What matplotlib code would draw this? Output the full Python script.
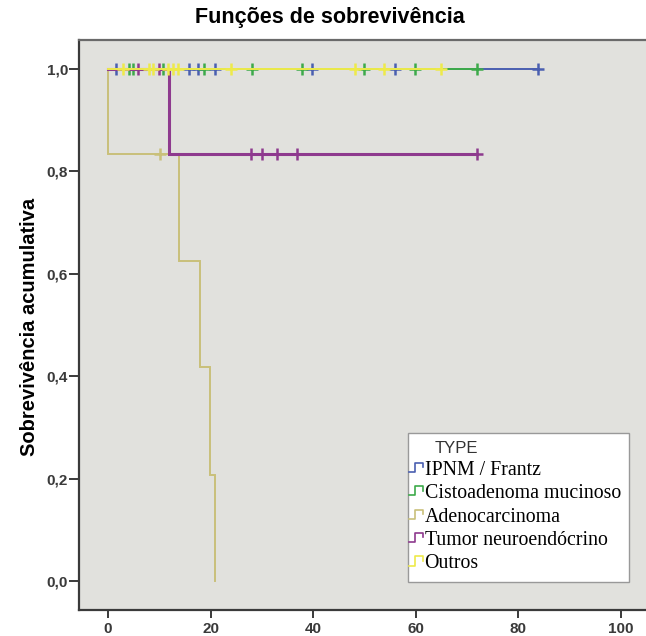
"""Kaplan-Meier style survival plot (SPSS look)."""

import matplotlib
matplotlib.use("Agg")
import matplotlib.pyplot as plt
import numpy as np
from matplotlib.legend_handler import HandlerBase
from matplotlib.lines import Line2D

# Survival step curves: times where the curve changes and the level after it
groups = ["IPNM / Frantz", "Cistoadenoma mucinoso", "Adenocarcinoma",
          "Tumor neuroendócrino", "Outros"]
colors = ["#4a5fb0", "#3daa4a", "#c9c07a", "#8e3a8e", "#eeea4a"]

ipnm_t = [0, 83.9]
ipnm_s = [1.0, 1.0]
ipnm_cens = [1.6, 15.8, 17.6, 20.9, 39.8, 55.9, 83.9]

cisto_t = [0, 71.9]
cisto_s = [1.0, 1.0]
cisto_cens = [4.1, 4.8, 10.7, 18.7, 28.1, 37.8, 49.9, 59.8, 71.9]

adeno_t = [0, 0.05, 13.9, 17.9, 19.9, 20.9]
adeno_s = [1.0, 0.833, 0.625, 0.417, 0.208, 0.0]
adeno_cens = [10.1]

tumor_t = [0, 11.8, 71.9]
tumor_s = [1.0, 0.833, 0.833]
tumor_cens = [5.8, 10.0, 27.9, 30.0, 32.9, 36.8, 71.9]

outros_t = [0, 65.0]
outros_s = [1.0, 1.0]
outros_cens = [2.9, 8.0, 8.8, 11.7, 12.7, 13.6, 24.0, 48.1, 53.8, 65.0]

curves = [(ipnm_t, ipnm_s, ipnm_cens), (cisto_t, cisto_s, cisto_cens),
          (adeno_t, adeno_s, adeno_cens), (tumor_t, tumor_s, tumor_cens),
          (outros_t, outros_s, outros_cens)]
widths = [1.4, 1.4, 1.4, 2.2, 1.4]


def level_at(t, times, surv):
    idx = np.searchsorted(times, t, side="right") - 1
    return np.array(surv)[idx]


class StepHandler(HandlerBase):
    def create_artists(self, legend, orig_handle, xdescent, ydescent,
                       width, height, fontsize, trans):
        # small step glyph, sitting right against the frame
        xs = np.array([-5.5, -1.5, -1.5, 4.5, 4.5]) - xdescent
        ys = np.array([0.2, 0.2, 0.85, 0.85, 0.55]) * height - ydescent
        line = Line2D(xs, ys, color=orig_handle.get_color(), lw=1.2)
        line.set_transform(trans)
        return [line]


fig = plt.figure(figsize=(6.46, 6.36), dpi=100)
ax = fig.add_axes([0.1223, 0.0409, 0.8777, 0.8962])
ax.set_facecolor("#e1e1dd")

handles = []
for (t, s, cens), c, lw, name in zip(curves, colors, widths, groups):
    ax.step(t, s, where="post", color=c, lw=lw, solid_joinstyle="miter")
    cy = level_at(np.array(cens), t, s)
    ax.plot(cens, cy, ls="none", marker="+", ms=8, mew=1.8, color=c)
    handles.append(Line2D([], [], color=c, label=name))

ax.set_xlim(-5.65, 104.9)
ax.set_ylim(-0.0566, 1.0566)
ax.set_xticks([0, 20, 40, 60, 80, 100])
ax.set_yticks([0, 0.2, 0.4, 0.6, 0.8, 1.0])
ax.set_yticklabels(["0,0", "0,2", "0,4", "0,6", "0,8", "1,0"])

for side in ["left", "bottom", "top"]:
    ax.spines[side].set_color("#3a3a3a")
    ax.spines[side].set_linewidth(1.6)
ax.spines["top"].set_color("#6a6a6a")
ax.spines["right"].set_visible(False)
ax.tick_params(axis="both", direction="out", color="#3a3a3a", width=1.4,
               labelsize=11, labelcolor="#3a3a3a")
ax.tick_params(axis="y", length=7, pad=1)
ax.tick_params(axis="x", length=6, pad=3)
for lab in ax.get_xticklabels() + ax.get_yticklabels():
    lab.set_fontweight("bold")
    lab.set_fontfamily("Liberation Sans")

fig.text(0.511, 0.972, "Funções de sobrevivência", ha="center", va="center",
         fontsize=15.5, fontweight="bold", family="Liberation Sans")
fig.text(0.046, 0.486, "Sobrevivência acumulativa", ha="center", va="center",
         rotation=90, fontsize=14.5, fontweight="bold", family="Liberation Sans")

leg = fig.legend(handles=handles, loc="upper left",
                 bbox_to_anchor=(0.632, 0.319), handler_map={Line2D: StepHandler()},
                 prop={"family": "Liberation Serif", "size": 14.3},
                 title="TYPE", handlelength=0.9, handletextpad=-0.5,
                 borderpad=0.42, labelspacing=0.22, borderaxespad=0,
                 fancybox=False, framealpha=1, edgecolor="#999999")
leg.get_title().set_fontfamily("Liberation Sans")
leg.get_title().set_fontsize(12)
leg.get_title().set_color("#333333")
leg._legend_box.align = "left"
leg.get_title().set_position((18, 0))

fig.savefig("out.png", dpi=100)
